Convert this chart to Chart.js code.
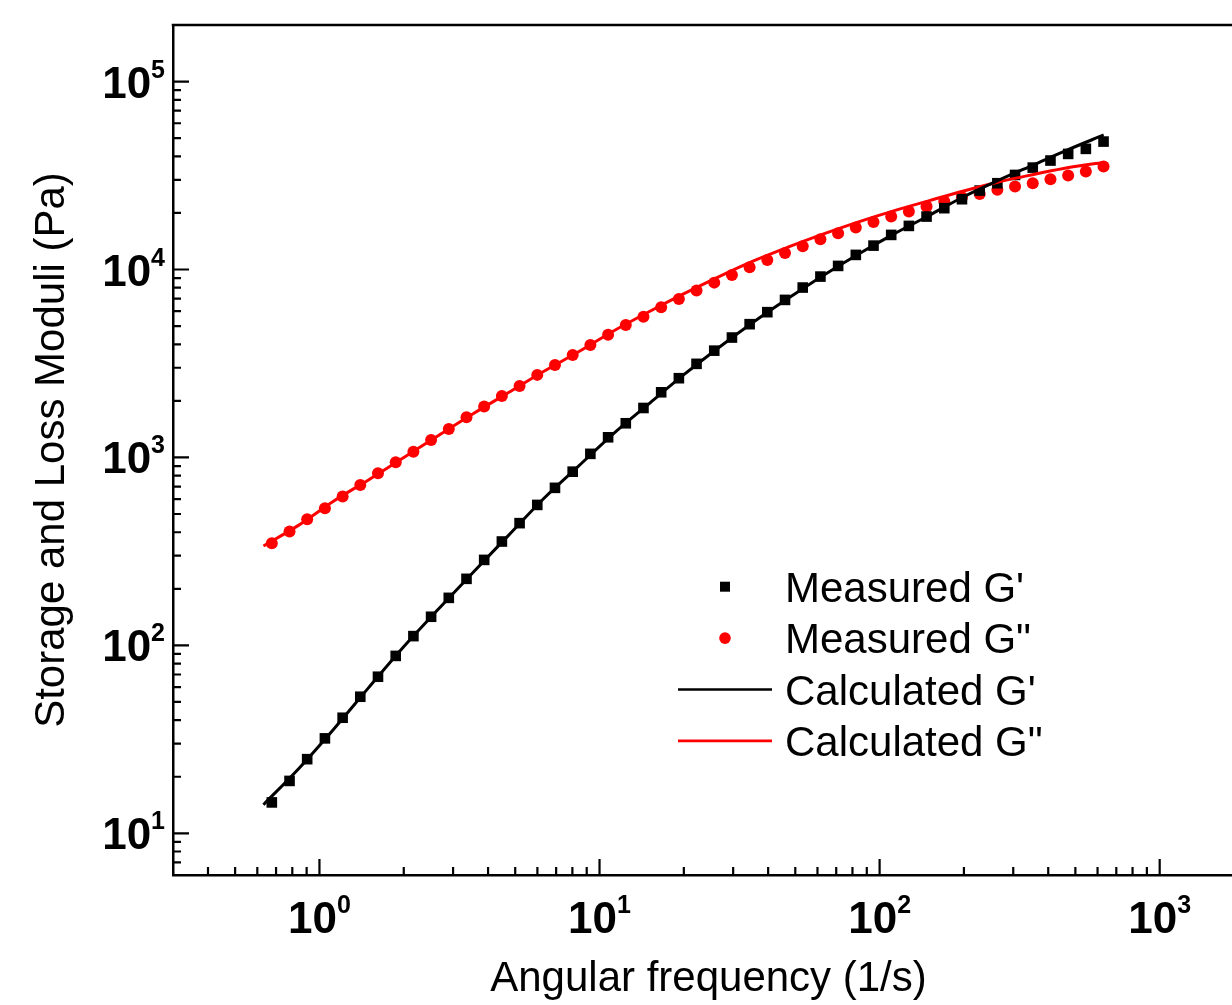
<!DOCTYPE html>
<html><head><meta charset="utf-8">
<script src="https://cdn.jsdelivr.net/npm/chart.js@4.4.1/dist/chart.umd.min.js"></script>
<style>
html,body{margin:0;padding:0;background:#fff;overflow:hidden;}
#wrap{position:relative;width:1260px;height:1005px;}
</style></head><body>
<div id="wrap"><canvas id="c"></canvas></div>
<script>
// ---- data ----
const freq = [0.676, 0.782, 0.904, 1.046, 1.21, 1.399, 1.618, 1.872, 2.165, 2.504, 2.896, 3.35, 3.874, 4.481, 5.183, 5.994, 6.933, 8.019, 9.275, 10.73, 12.41, 14.35, 16.6, 19.2, 22.2, 25.68, 29.7, 34.35, 39.73, 45.95, 53.15, 61.47, 71.1, 82.23, 95.11, 110, 127.2, 147.1, 170.2, 196.8, 227.7, 263.3, 304.5, 352.2, 407.4, 471.2, 545, 630.3];
const gPrimeMeasured = [14.6, 19.0, 24.8, 32.0, 41.2, 53.3, 68.1, 87.9, 112, 142, 179, 226, 285, 357, 447, 559, 689, 840, 1045, 1280, 1520, 1833, 2222, 2640, 3148, 3700, 4345, 5117, 5929, 6891, 8017, 9170, 10450, 11960, 13400, 15280, 17060, 19130, 21200, 23660, 26300, 28780, 31860, 34850, 38000, 41220, 43850, 47940];
const gDoublePrimeMeasured = [349, 403, 469, 537, 619, 714, 824, 943, 1073, 1240, 1418, 1637, 1864, 2125, 2403, 2750, 3107, 3510, 3970, 4490, 5072, 5613, 6299, 6976, 7722, 8515, 9355, 10280, 11250, 12250, 13300, 14490, 15600, 16710, 17920, 19130, 20330, 21610, 22980, 24260, 25250, 26530, 27620, 28780, 30260, 31620, 33200, 35300];
const calcFreq = [0.631, 0.841, 1.122, 1.496, 1.995, 2.661, 3.548, 4.732, 6.31, 8.414, 11.22, 14.96, 19.95, 26.61, 35.48, 47.32, 63.1, 84.14, 112.2, 149.6, 199.5, 266.1, 354.8, 473.2, 631];
const gPrimeCalc = [14.2, 22.0, 35.7, 59.4, 98.0, 156, 246, 385, 603, 899, 1339, 1923, 2748, 3837, 5255, 7046, 9326, 12100, 15430, 19330, 24380, 29850, 36060, 43550, 52000];
const gDoublePrimeCalc = [338, 435, 585, 759, 996, 1310, 1714, 2215, 2864, 3648, 4710, 5943, 7413, 9142, 11110, 13180, 15460, 17920, 20500, 23190, 26180, 29240, 32060, 34940, 37150];
const xMajorTicks = [1, 10, 100, 1000];
const yMajorTicks = [10, 100, 1000, 10000, 100000];
const xRange = [0.3, 2000];
const yRange = [6, 200000];
const seriesLabels = ["Measured G'", 'Measured G"', "Calculated G'", 'Calculated G"'];
const xTitle = 'Angular frequency (1/s)';
const yTitle = 'Storage and Loss Moduli (Pa)';

// ---- drawing ----
const FONT = '"Liberation Sans", Arial, sans-serif';
const toXY = (xs, ys) => xs.map((v, i) => ({x: v, y: ys[i]}));

function drawPower(ctx, value, x, baseY, align) {
  const exp = String(Math.round(Math.log10(value)));
  ctx.font = 'bold 44px ' + FONT;
  const w1 = ctx.measureText('10').width;
  ctx.font = 'bold 25px ' + FONT;
  const w2 = ctx.measureText(exp).width;
  const total = w1 + w2;
  const x0 = align === 'center' ? x - total / 2 : x - total;
  ctx.textAlign = 'left';
  ctx.textBaseline = 'alphabetic';
  ctx.font = 'bold 44px ' + FONT;
  ctx.fillText('10', x0, baseY);
  ctx.font = 'bold 25px ' + FONT;
  ctx.fillText(exp, x0 + w1, baseY - 20);
}

function minorValues(min, max) {
  const out = [];
  for (let e = Math.floor(Math.log10(min)); e <= Math.ceil(Math.log10(max)); e++) {
    for (let m = 1; m <= 9; m++) {
      const v = m * Math.pow(10, e);
      if (v > min * 1.0001 && v < max * 0.9999) out.push({v, major: m === 1});
    }
  }
  return out;
}

const framePlugin = {
  id: 'frame',
  afterDraw(chart) {
    const {ctx, chartArea: a, scales: {x, y}} = chart;
    ctx.save();
    ctx.strokeStyle = '#000';
    ctx.fillStyle = '#000';
    ctx.lineWidth = 2.5;
    ctx.lineCap = 'butt';
    ctx.beginPath();
    ctx.moveTo(a.left - 1.25, a.top);
    ctx.lineTo(a.right, a.top);
    ctx.lineTo(a.right, a.bottom);
    ctx.stroke();
    // inward ticks
    ctx.lineWidth = 2.2;
    ctx.beginPath();
    minorValues(xRange[0], xRange[1]).forEach(t => {
      const px = x.getPixelForValue(t.v);
      const len = t.major ? 16 : 8;
      ctx.moveTo(px, a.bottom); ctx.lineTo(px, a.bottom - len);
    });
    minorValues(yRange[0], yRange[1]).forEach(t => {
      const py = y.getPixelForValue(t.v);
      const len = t.major ? 16 : 8;
      ctx.moveTo(a.left, py); ctx.lineTo(a.left + len, py);
    });
    ctx.stroke();
    // tick labels
    xMajorTicks.forEach(v => drawPower(ctx, v, x.getPixelForValue(v), 933, 'center'));
    yMajorTicks.forEach(v => drawPower(ctx, v, a.left - 8, y.getPixelForValue(v) + 16, 'right'));
    // legend
    const ds = chart.data.datasets;
    ctx.font = '42px ' + FONT;
    ctx.textAlign = 'left';
    ctx.textBaseline = 'alphabetic';
    ds.forEach((d, i) => {
      const cy = 586.7 + 51.4 * i;
      if (d.showLine) {
        ctx.strokeStyle = d.borderColor;
        ctx.lineWidth = 2.7;
        ctx.beginPath(); ctx.moveTo(678, cy); ctx.lineTo(772, cy); ctx.stroke();
      } else {
        ctx.fillStyle = d.backgroundColor;
        if (d.pointStyle === 'rect') {
          ctx.fillRect(725 - 5, cy - 5, 10, 10);
        } else {
          ctx.beginPath(); ctx.arc(725, cy, 5.8, 0, Math.PI * 2); ctx.fill();
        }
      }
      ctx.fillStyle = '#000';
      ctx.fillText(d.label, 785, cy + 15);
    });
    ctx.restore();
  }
};

new Chart(document.getElementById('c'), {
  type: 'scatter',
  data: {
    datasets: [
      {label: seriesLabels[0], data: toXY(freq, gPrimeMeasured), pointStyle: 'rect', pointRadius: 7.5, backgroundColor: '#000000', borderWidth: 0, showLine: false, order: 2},
      {label: seriesLabels[1], data: toXY(freq, gDoublePrimeMeasured), pointStyle: 'circle', pointRadius: 6, backgroundColor: '#ff0000', borderWidth: 0, showLine: false, order: 2},
      {label: seriesLabels[2], data: toXY(calcFreq, gPrimeCalc), showLine: true, pointRadius: 0, borderColor: '#000000', borderWidth: 3, cubicInterpolationMode: 'monotone', order: 1},
      {label: seriesLabels[3], data: toXY(calcFreq, gDoublePrimeCalc), showLine: true, pointRadius: 0, borderColor: '#ff0000', borderWidth: 3, cubicInterpolationMode: 'monotone', order: 1}
    ]
  },
  options: {
    responsive: true,
    maintainAspectRatio: false,
    animation: false,
    devicePixelRatio: 1,
    layout: {padding: {top: 25, right: 16, bottom: 0, left: 0}},
    plugins: {legend: {display: false}, tooltip: {enabled: false}},
    scales: {
      x: {
        type: 'logarithmic', position: 'bottom', min: xRange[0], max: xRange[1],
        ticks: {display: false},
        grid: {display: false, drawTicks: false},
        border: {display: true, color: '#000', width: 2.5},
        title: {display: true, text: xTitle, color: '#000', font: {family: FONT, size: 42}, padding: {top: 0, bottom: 0}},
        afterFit(s) { s.height = 130; }
      },
      y: {
        type: 'logarithmic', position: 'left', min: yRange[0], max: yRange[1],
        ticks: {display: false},
        grid: {display: false, drawTicks: false},
        border: {display: true, color: '#000', width: 2.5},
        title: {display: true, text: yTitle, color: '#000', font: {family: FONT, size: 42}, padding: {top: 27, bottom: 0}},
        afterFit(s) { s.width = 173; }
      }
    }
  },
  plugins: [framePlugin]
});
</script>
</body></html>
